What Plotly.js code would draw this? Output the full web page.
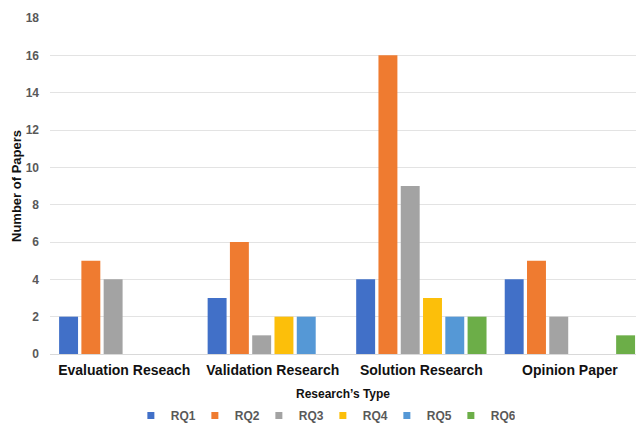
<!DOCTYPE html>
<html>
<head>
<meta charset="utf-8">
<script src="https://cdn.plot.ly/plotly-3.0.1.min.js"></script>
<style>html,body{margin:0;padding:0;background:#fff;}#chart{width:636px;height:423px;}</style>
</head>
<body>
<div id="chart"></div>
<script>
const categories = ["Evaluation Reseach", "Validation Research", "Solution Research", "Opinion Paper"];
const seriesNames = ["RQ1", "RQ2", "RQ3", "RQ4", "RQ5", "RQ6"];
const RQ1 = [2, 3, 4, 4];
const RQ2 = [5, 6, 16, 5];
const RQ3 = [4, 1, 9, 2];
const RQ4 = [0, 2, 3, 0];
const RQ5 = [0, 2, 2, 0];
const RQ6 = [0, 0, 2, 1];
const seriesValues = [RQ1, RQ2, RQ3, RQ4, RQ5, RQ6];
const colors = ["#4170c8", "#ef7b30", "#a3a3a3", "#fcbf0a", "#5598d6", "#6cae48"];

const barTraces = seriesNames.map((n, i) => ({
  type: "bar",
  name: n,
  x: categories,
  y: seriesValues[i],
  marker: {color: colors[i], line: {width: 0}},
  showlegend: false,
  hoverinfo: "skip"
}));
// legend-only entries (small square swatches)
const legendTraces = seriesNames.map((n, i) => ({
  type: "scatter",
  mode: "markers",
  name: n,
  x: [null], y: [null],
  marker: {color: colors[i], symbol: "square", size: 7},
  hoverinfo: "skip"
}));

const layout = {
  width: 636, height: 423,
  margin: {l: 50, r: 0, t: 18, b: 69},
  paper_bgcolor: "#fff", plot_bgcolor: "#fff",
  barmode: "group",
  bargap: 0.1,
  bargroupgap: 0.15,
  font: {family: "Liberation Sans, Arial, sans-serif"},
  xaxis: {
    type: "category",
    range: [-0.5, 3.445],
    showgrid: false, showline: false, zeroline: false,
    ticks: "",
    tickfont: {size: 14, color: "#111", weight: "bold"},
    ticklabelstandoff: 6,
    automargin: false,
    title: {text: "Research’s Type", font: {size: 12, color: "#111", weight: "bold"}, standoff: 20}
  },
  yaxis: {
    range: [0, 18], dtick: 2,
    showgrid: true, gridcolor: "#e3e3e3", gridwidth: 1,
    zeroline: true, zerolinecolor: "#d9d9d9", zerolinewidth: 1,
    showline: false, ticks: "",
    tickfont: {size: 12, color: "#595959", weight: "bold"},
    ticklabelstandoff: 10,
    automargin: false,
    title: {text: "Number of Papers", font: {size: 13, color: "#111", weight: "bold"}, standoff: 1}
  },
  showlegend: true,
  legend: {
    orientation: "h", x: 0.138, xanchor: "left",
    yref: "container", y: 0.052, yanchor: "top",
    font: {size: 12, color: "#595959", weight: "bold"},
    entrywidth: 19, itemwidth: 30,
    traceorder: "normal"
  }
};

Plotly.newPlot("chart", barTraces.concat(legendTraces), layout, {displayModeBar: false, staticPlot: true});
</script>
</body>
</html>
